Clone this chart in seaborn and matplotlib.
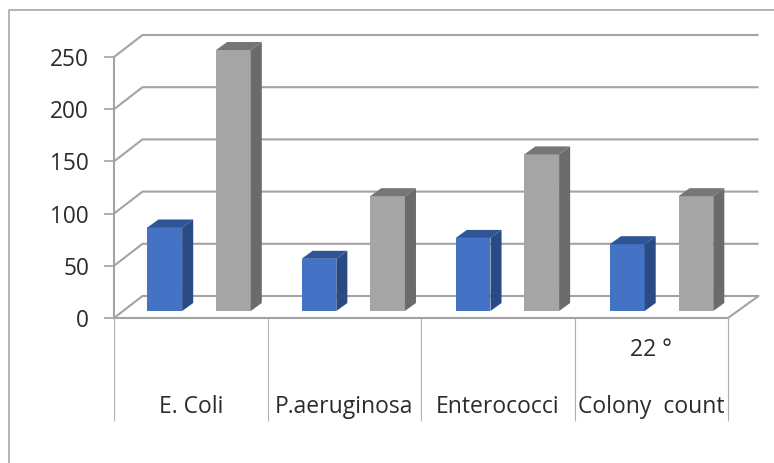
import matplotlib
matplotlib.use("Agg")
import matplotlib.pyplot as plt
from matplotlib.lines import Line2D
from matplotlib.patches import Polygon
import pandas as pd
import seaborn as sns

categories = ["E. Coli", "P.aeruginosa", "Enterococci", "22 °\n\nColony  count"]
series_a = [80, 50, 70, 64]
series_b = [250, 110, 150, 110]
y_ticks = [0, 50, 100, 150, 200, 250]

W, H = 774, 463
LEFT, RIGHT = 114, 728
AX_TOP, AX_BOTTOM = 57, 318      # value axis on the front edge of the floor
BAR_LIFT = 7                     # bars stand this far back from the front edge
BAR_SHIFT = 8                    # and this far to the right of the slot centre
BAR_STRETCH = 2.7                # columns spread slightly wider than the slots
LINE = "#a3a3a3"
TEXT = "#2b2b2b"
FACES = {"a": ("#4472c4", "#2a4a85", "#2f5597"), "b": ("#a5a5a5", "#6b6b6b", "#767676")}

sns.set_theme(style="white")
plt.rcParams["font.family"] = ["Open Sans", "DejaVu Sans"]

df = pd.DataFrame({
    "category": categories * 2,
    "series": ["a"] * 4 + ["b"] * 4,
    "value": series_a + series_b,
})

fig = plt.figure(figsize=(W / 100, H / 100), dpi=100, facecolor="white")


def rect(top, bottom, shift=0, stretch=0):
    return [(LEFT + shift) / W, 1 - bottom / H, (RIGHT - LEFT + stretch) / W, (bottom - top) / H]


# outer frame of the picture: left and top edges only
fx, fy = 8.5 / W, 1 - 10 / H
fig.add_artist(Line2D([fx, fx, 1.0], [0.0, fy, fy], transform=fig.transFigure,
                      color="#a0a0a0", linewidth=1.1))

# value axis, walls, floor and category labels
frame = fig.add_axes(rect(AX_TOP, AX_BOTTOM), zorder=1)
frame.set_xlim(-0.5, 3.5)
frame.set_ylim(0, 250)
px_x = 4 / (RIGHT - LEFT)
px_y = 250 / (AX_BOTTOM - AX_TOP)
BACK_X, BACK_Y = 28.5 * px_x, 22 * px_y
for v in y_ticks:
    frame.plot([-0.5, -0.5 + BACK_X, 3.5 + BACK_X + 2 * px_x], [v, v + BACK_Y, v + BACK_Y],
               color=LINE, lw=1.5, clip_on=False, solid_capstyle="butt")
frame.plot([3.5, 3.5 + BACK_X + 2 * px_x], [0, BACK_Y], color=LINE, lw=1.5, clip_on=False)
frame.set_yticks(y_ticks)
frame.set_xticks(range(len(categories)), categories)
frame.set_xticks([-0.5, 0.5, 1.5, 2.5, 3.5], minor=True)
frame.tick_params(axis="x", which="minor", length=74, width=0.8, color="#b0b0b0", bottom=True)
frame.tick_params(axis="x", which="major", length=0, pad=72.5, labelsize=16.5, labelcolor=TEXT)
frame.tick_params(axis="y", length=7, width=1.2, color=LINE, left=True, labelsize=16.3, labelcolor=TEXT, pad=11)
for lab in frame.get_xticklabels():
    lab.set_verticalalignment("bottom")
    lab.set_linespacing(1.235)
for s in ("top", "right"):
    frame.spines[s].set_visible(False)
for s in ("left", "bottom"):
    frame.spines[s].set_color(LINE)
    frame.spines[s].set_linewidth(1.5)
frame.patch.set_alpha(0)

# the columns
ax = fig.add_axes(rect(AX_TOP - BAR_LIFT, AX_BOTTOM - BAR_LIFT, BAR_SHIFT, BAR_STRETCH), zorder=2)
sns.barplot(data=df, x="category", y="value", hue="series", hue_order=["a", "b"],
            palette={k: v[0] for k, v in FACES.items()}, width=0.89, gap=0.494,
            dodge=True, legend=False, saturation=1, ax=ax, errorbar=None, linewidth=0)
ax.set_xlim(-0.5, 3.5)
ax.set_ylim(0, 250)
ax.patch.set_alpha(0)
ax.set_xlabel("")
ax.set_ylabel("")
ax.set_yticks([])
ax.tick_params(axis="x", length=0, labelbottom=False)
for s in ax.spines.values():
    s.set_visible(False)

# sides and tops of the columns, derived from the seaborn bars
DX, DY = 11 * px_x, 8 * px_y
for bar, key in zip(ax.patches, ["a"] * 4 + ["b"] * 4):
    x0, x1 = bar.get_x(), bar.get_x() + bar.get_width()
    h = bar.get_height()
    _, side, top = FACES[key]
    ax.add_patch(Polygon([(x1, 0), (x1 + DX, DY), (x1 + DX, h + DY), (x1, h)], closed=True,
                         facecolor=side, edgecolor="none", clip_on=False))
    ax.add_patch(Polygon([(x0, h), (x0 + DX, h + DY), (x1 + DX, h + DY), (x1, h)], closed=True,
                         facecolor=top, edgecolor="none", clip_on=False))

fig.savefig("out.png", dpi=100, facecolor="white")
